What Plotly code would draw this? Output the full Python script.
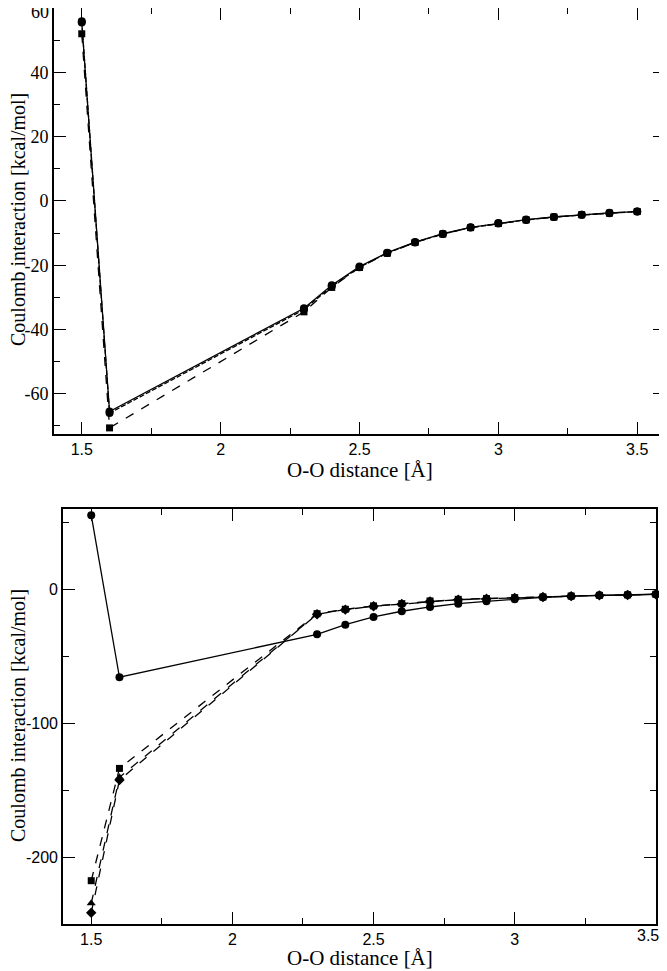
import plotly.graph_objects as go

# ---------------- data ----------------
dist = [1.5, 1.6, 2.3, 2.4, 2.5, 2.6, 2.7, 2.8, 2.9, 3.0, 3.1, 3.2, 3.3, 3.4, 3.5]

top_solid_circle = [55.5, -65.5, -33.4, -26.2, -20.4, -16.1, -12.8, -10.2, -8.2, -6.9, -5.8, -5.0, -4.3, -3.7, -3.3]
top_dot_circle = [55.9, -66.0, -33.8, -26.6, -20.6, -16.2, -12.9, -10.3, -8.3, -7.0, -5.9, -5.0, -4.3, -3.8, -3.3]
top_dash_square = [52.0, -70.6, -34.5, -26.9, -20.7, -16.3, -12.9, -10.3, -8.3, -7.0, -5.9, -5.0, -4.3, -3.8, -3.3]

bot_solid_circle = [55.4, -65.7, -33.6, -26.4, -20.6, -16.4, -13.2, -10.7, -9.0, -7.4, -6.0, -5.1, -4.5, -4.1, -3.7]
bot_dash_square = [-217.7, -133.8, -18.2, -14.9, -12.4, -10.7, -8.7, -7.5, -6.9, -6.2, -5.7, -5.0, -4.5, -4.2, -3.7]
bot_dash_triangle = [-234.6, -140.5, -18.4, -15.1, -12.6, -10.8, -8.9, -7.6, -7.0, -6.3, -5.7, -5.0, -4.5, -4.2, -3.7]
bot_dash_diamond = [-241.6, -142.5, -18.6, -15.2, -12.7, -10.9, -9.0, -7.7, -7.1, -6.4, -5.8, -5.1, -4.5, -4.2, -3.7]

x_ticks = [1.5, 2, 2.5, 3, 3.5]
x_ticklabels = ["1.5", "2", "2.5", "3", "3.5"]
top_y_ticks = [-60, -40, -20, 0, 20, 40, 60]
top_y_ticklabels = ["-60", "-40", "-20", "0", "20", "40", "60"]
bot_y_ticks = [-200, -100, 0]
bot_y_ticklabels = ["-200", "-100", "0"]

x_title = "O-O distance [Å]"
y_title = "Coulomb interaction [kcal/mol]"

# ---------------- figure ----------------
# The page body has an 8px margin, so the figure is drawn 8px in from the
# window's corner; positions below are window pixels minus that offset.
OFF = 8
W, H = 667 - OFF, 971 - OFF

def px_x(v):
    return min(1.0, max(0.0, (v - OFF) / W))

def px_y(v):
    return min(1.0, max(0.0, 1 - (v - OFF) / H))

fig = go.Figure()

def add(x, y, xa, ya, dash, symbol, size=8):
    fig.add_trace(go.Scatter(
        x=x, y=y, xaxis=xa, yaxis=ya, mode="lines+markers",
        line=dict(color="black", width=1.3, dash=dash),
        marker=dict(color="black", symbol=symbol, size=size),
        showlegend=False, hoverinfo="skip", cliponaxis=False))

add(dist, top_dash_square, "x", "y", "dash", "square", 7)
add(dist, top_dot_circle, "x", "y", "5px,2px", "circle", 8)
add(dist, top_solid_circle, "x", "y", "solid", "circle", 8)

add(dist, bot_dash_diamond, "x2", "y2", "dash", "diamond", 8)
add(dist, bot_dash_triangle, "x2", "y2", "dash", "triangle-up", 8)
add(dist, bot_dash_square, "x2", "y2", "dash", "square", 7)
add(dist, bot_solid_circle, "x2", "y2", "solid", "circle", 8)

serif = "Liberation Serif"
sans = "Liberation Sans"

def axis_common():
    return dict(showline=True, linecolor="black", linewidth=1.6, mirror="allticks",
                ticks="inside", ticklen=12, tickwidth=1.3, tickcolor="black",
                ticklabelposition="outside",
                showgrid=False, zeroline=False, automargin=False)

def minor(vals):
    return dict(tickvals=vals, ticks="inside", ticklen=6, tickwidth=1.3, tickcolor="black")

top_x = axis_common()
top_x.update(domain=[px_x(54), px_x(665)], range=[1.4, 3.6], anchor="y",
             tickvals=x_ticks, ticktext=x_ticklabels,
             tickfont=dict(family=sans, size=16, color="black"),
             minor=minor([1.75, 2.25, 2.75, 3.25]))
top_y = axis_common()
top_y.update(domain=[px_y(434), px_y(6)], range=[-72.5, 60.02], anchor="x",
             tickvals=top_y_ticks, ticktext=top_y_ticklabels,
             tickfont=dict(family=serif, size=18, color="black"),
             minor=minor([-70, -50, -30, -10, 10, 30, 50]))

bot_x = axis_common()
bot_x.update(domain=[px_x(63), px_x(656)], range=[1.4, 3.5005], anchor="y2",
             tickvals=x_ticks, ticktext=x_ticklabels,
             tickfont=dict(family=sans, size=16, color="black"),
             ticklabelstandoff=0,
             minor=minor([1.75, 2.25, 2.75, 3.25]))
bot_y = axis_common()
bot_y.update(domain=[px_y(924), px_y(509)], range=[-250.05, 60], anchor="x2",
             tickvals=bot_y_ticks, ticktext=bot_y_ticklabels,
             tickfont=dict(family=sans, size=16, color="black"),
             minor=minor([-250, -150, -50, 50]))

def title_ann(text, x, y, angle=0, size=21):
    return dict(text=text, x=px_x(x), y=px_y(y), xref="paper", yref="paper",
                xanchor="center", yanchor="middle", textangle=angle,
                showarrow=False, font=dict(family=serif, size=size, color="black"))

# Edge tick labels that plotly drops at the very ends of the axes
edge_labels = [
    dict(text=top_y_ticklabels[-1], x=px_x(51), xanchor="right", xref="paper",
         y=px_y(12), yanchor="middle", yref="paper", showarrow=False,
         font=dict(family=serif, size=18, color="black")),
    dict(text=x_ticklabels[-1], x=x_ticks[-1], xanchor="center", xshift=-8, xref="x2",
         y=px_y(935), yanchor="middle", yref="paper", showarrow=False,
         font=dict(family=sans, size=16, color="black")),
]

fig.update_layout(
    width=W, height=H, margin=dict(l=0, r=0, t=0, b=0, autoexpand=False),
    paper_bgcolor="white", plot_bgcolor="white",
    xaxis=top_x, yaxis=top_y, xaxis2=bot_x, yaxis2=bot_y,
    annotations=[
        title_ann(x_title, 360, 470),
        title_ann(x_title, 360, 958),
        title_ann(y_title, 18, 220, -90, 20),
        title_ann(y_title, 18, 716, -90, 20),
    ] + edge_labels,
)

fig.write_html("out.html")
